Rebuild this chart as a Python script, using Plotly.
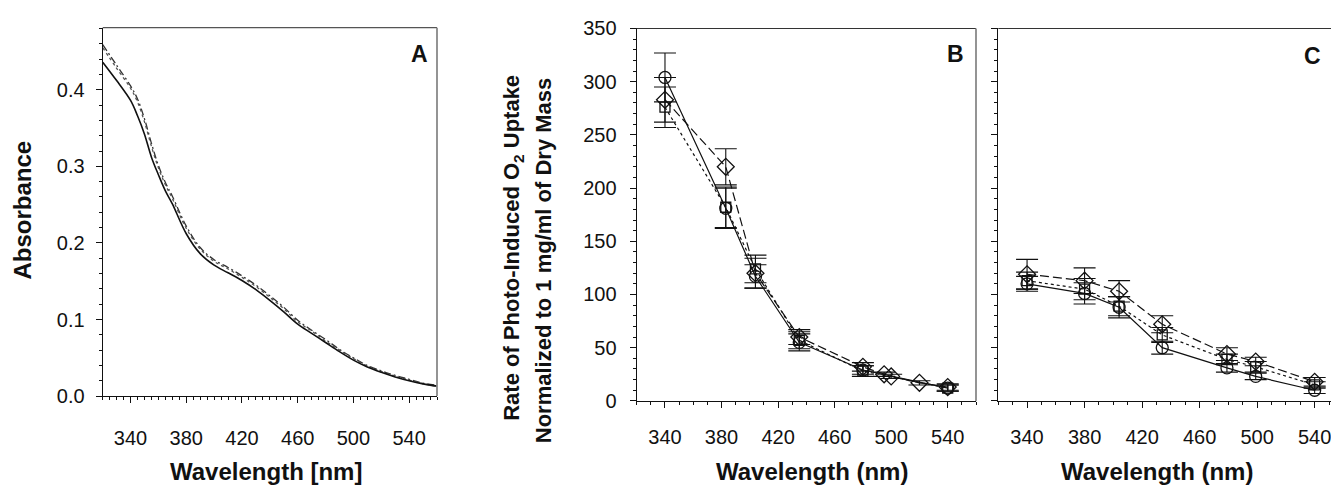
import plotly.graph_objects as go

W, H = 1331, 488
FONT = "Liberation Sans, Arial, Helvetica, sans-serif"

# ---------------- Panel A : absorbance spectra ----------------
wl_a = [320, 330, 340, 345, 350, 355, 360, 365, 370, 380, 390, 400, 410, 420,
        430, 440, 450, 460, 470, 480, 490, 500, 510, 520, 530, 540, 550, 560]
abs_solid = [0.436, 0.412, 0.386, 0.366, 0.342, 0.312, 0.289, 0.268, 0.251, 0.212,
             0.186, 0.171, 0.161, 0.151, 0.139, 0.125, 0.110, 0.094, 0.082, 0.070,
             0.058, 0.047, 0.038, 0.031, 0.025, 0.020, 0.016, 0.013]
abs_dash = [0.459, 0.432, 0.405, 0.388, 0.362, 0.330, 0.301, 0.279, 0.261, 0.222,
            0.194, 0.178, 0.168, 0.157, 0.145, 0.131, 0.116, 0.099, 0.086, 0.074,
            0.061, 0.050, 0.040, 0.033, 0.027, 0.022, 0.017, 0.014]
abs_dot = [0.455, 0.428, 0.402, 0.384, 0.358, 0.326, 0.298, 0.276, 0.258, 0.219,
           0.192, 0.176, 0.166, 0.155, 0.143, 0.129, 0.114, 0.097, 0.085, 0.072,
           0.060, 0.049, 0.039, 0.032, 0.026, 0.021, 0.016, 0.013]

# ---------------- Panel B ----------------
wl_b_diamond = [340, 383, 404, 435, 480, 495, 500, 520, 540]
rate_b_diamond = [283, 220, 120, 60, 32, 25, 23, 17, 13]
err_b_diamond = [21, 17, 14, 7, 4, 2, 2, 2, 3]
wl_b = [340, 383, 404, 435, 480, 540]
rate_b_square = [276, 182, 124, 57, 28, 12]
err_b_square = [19, 19, 13, 8, 5, 3]
rate_b_circle = [304, 181, 117, 55, 29, 12]
err_b_circle = [23, 19, 11, 8, 4, 3]

# ---------------- Panel C ----------------
wl_c = [340, 380, 404, 434, 479, 499, 540]
rate_c_diamond = [119, 113, 103, 72, 44, 37, 18]
err_c_diamond = [14, 12, 10, 8, 6, 4, 4]
rate_c_square = [113, 105, 89, 62, 39, 32, 15]
err_c_square = [8, 10, 9, 7, 5, 5, 3]
rate_c_circle = [110, 101, 88, 50, 31, 23, 10]
err_c_circle = [7, 10, 10, 6, 4, 3, 3]


def xd(a, b):
    return [a / W, min(b / W, 1.0)]


def yd(top, bottom):
    return [1 - bottom / H, 1 - top / H]


fig = go.Figure()

# Panel A traces
fig.add_trace(go.Scatter(x=wl_a, y=abs_dash, mode="lines", line=dict(color="#333", width=1.3, dash="7px,3px,2px,3px", shape="spline"),
                         xaxis="x", yaxis="y", showlegend=False))
fig.add_trace(go.Scatter(x=wl_a, y=abs_dot, mode="lines", line=dict(color="#555", width=1.3, dash="dot", shape="spline"),
                         xaxis="x", yaxis="y", showlegend=False))
fig.add_trace(go.Scatter(x=wl_a, y=abs_solid, mode="lines", line=dict(color="#111", width=1.6, shape="spline"),
                         xaxis="x", yaxis="y", showlegend=False))


def add_series(x, y, err, dash, symbol, size, xa, ya):
    fig.add_trace(go.Scatter(
        x=x, y=y, mode="lines+markers",
        line=dict(color="#111", width=1.2, dash=dash),
        marker=dict(symbol=symbol, size=size, color="#111", line=dict(color="#111", width=1.3)),
        error_y=dict(type="data", array=err, visible=True, color="#111", thickness=1.1, width=11),
        xaxis=xa, yaxis=ya, showlegend=False))


# Panel B
add_series(wl_b_diamond, rate_b_diamond, err_b_diamond, "9px,4px", "diamond-open", 13, "x2", "y2")
add_series(wl_b, rate_b_square, err_b_square, "dot", "square-open", 10, "x2", "y2")
add_series(wl_b, rate_b_circle, err_b_circle, "solid", "circle-open", 12, "x2", "y2")
# Panel C
add_series(wl_c, rate_c_diamond, err_c_diamond, "9px,4px", "diamond-open", 13, "x3", "y3")
add_series(wl_c, rate_c_square, err_c_square, "dot", "square-open", 10, "x3", "y3")
add_series(wl_c, rate_c_circle, err_c_circle, "solid", "circle-open", 12, "x3", "y3")

tickfont = dict(family=FONT, size=20, color="#111")
common = dict(showgrid=False, zeroline=False, showline=True, linecolor="#111", linewidth=1.2,
              ticks="outside", ticklen=6, tickwidth=1.1, tickcolor="#111", tickfont=tickfont,
              ticklabeloverflow="allow")


def xaxis(domain, rng, minor_dt, anchor, standoff):
    return dict(domain=domain, range=rng, anchor=anchor, tickmode="linear", tick0=340, dtick=40,
                minor=dict(ticks="outside", ticklen=3, tickwidth=1, tickcolor="#111", dtick=minor_dt, tick0=340),
                ticklabelstandoff=standoff, **common)


def yaxis(domain, rng, dt, minor_dt, anchor, showlabels, fmt=None, standoff=8):
    d = dict(domain=domain, range=rng, anchor=anchor, tickmode="linear", tick0=0, dtick=dt,
             minor=dict(ticks="outside", ticklen=3, tickwidth=1, tickcolor="#111", dtick=minor_dt, tick0=0),
             showticklabels=showlabels, ticklabelstandoff=standoff, **common)
    if fmt:
        d["tickformat"] = fmt
    return d


A_L, A_R, A_T, A_B = 102.7, 437.0, 17.5, 403.3
B_L, B_R, B_T, B_B = 636.7, 976.0, 18.3, 408.3
C_L, C_R = 998.3, 1331.0

fig.update_layout(
    width=W, height=H, margin=dict(l=0, r=0, t=0, b=0),
    paper_bgcolor="white", plot_bgcolor="white",
    font=dict(family=FONT, color="#111"),
    xaxis=xaxis(xd(A_L, A_R), [320, 560], 5, "y", 18),
    yaxis=yaxis(yd(A_T, A_B), [0, 0.481], 0.1, 0.02, "x", True, ".1f", 7),
    xaxis2=xaxis(xd(B_L, B_R), [320, 560], 10, "y2", 12),
    yaxis2=yaxis(yd(B_T, B_B), [0, 350], 50, 10, "x2", True, None, 9),
    xaxis3=xaxis(xd(C_L, C_R), [320, 320 + (C_R - C_L) / 1.438], 10, "y3", 12),
    yaxis3=yaxis(yd(B_T, B_B), [0, 350], 50, 10, "x3", False),
)

# frame borders (top / right)
shapes = []
def pline(x0, y0, x1, y1, color, width):
    shapes.append(dict(type="line", xref="paper", yref="paper", x0=x0 / W, y0=1 - y0 / H,
                       x1=x1 / W, y1=1 - y1 / H, line=dict(color=color, width=width)))
pline(A_L, A_T, A_R, A_T, "#555", 1.2)
pline(A_R, A_T, A_R, A_B, "#888", 1.8)
pline(B_L, B_T, B_R, B_T, "#333", 1.2)
pline(B_R, B_T, B_R, B_B, "#888", 1.8)
pline(C_L, B_T, C_R, B_T, "#333", 1.2)
fig.update_layout(shapes=shapes)

# annotations (titles and panel letters)
def ann(text, x, y, size, angle=0, bold=True, yanchor="middle"):
    fig.add_annotation(text=f"<b>{text}</b>" if bold else text, xref="paper", yref="paper",
                       x=x / W, y=1 - y / H, xanchor="center", yanchor=yanchor,
                       showarrow=False, textangle=angle,
                       font=dict(family=FONT, size=size, color="#111"))

ann("Wavelength [nm]", 266, 466, 24, yanchor="top")
ann("Wavelength (nm)", 812, 466, 24, yanchor="top")
ann("Wavelength (nm)", 1157, 466, 24, yanchor="top")
ann("Absorbance", 23, 209, 24, -90)
ann("Rate of Photo-Induced O<sub>2</sub> Uptake", 513, 248, 22, -90)
ann("Normalized to 1 mg/ml of Dry Mass", 543, 261, 22, -90)
ann("A", 419.5, 45, 23)
ann("B", 955.5, 45, 23)
ann("C", 1312.5, 47, 23)

fig.write_html("out.html")
